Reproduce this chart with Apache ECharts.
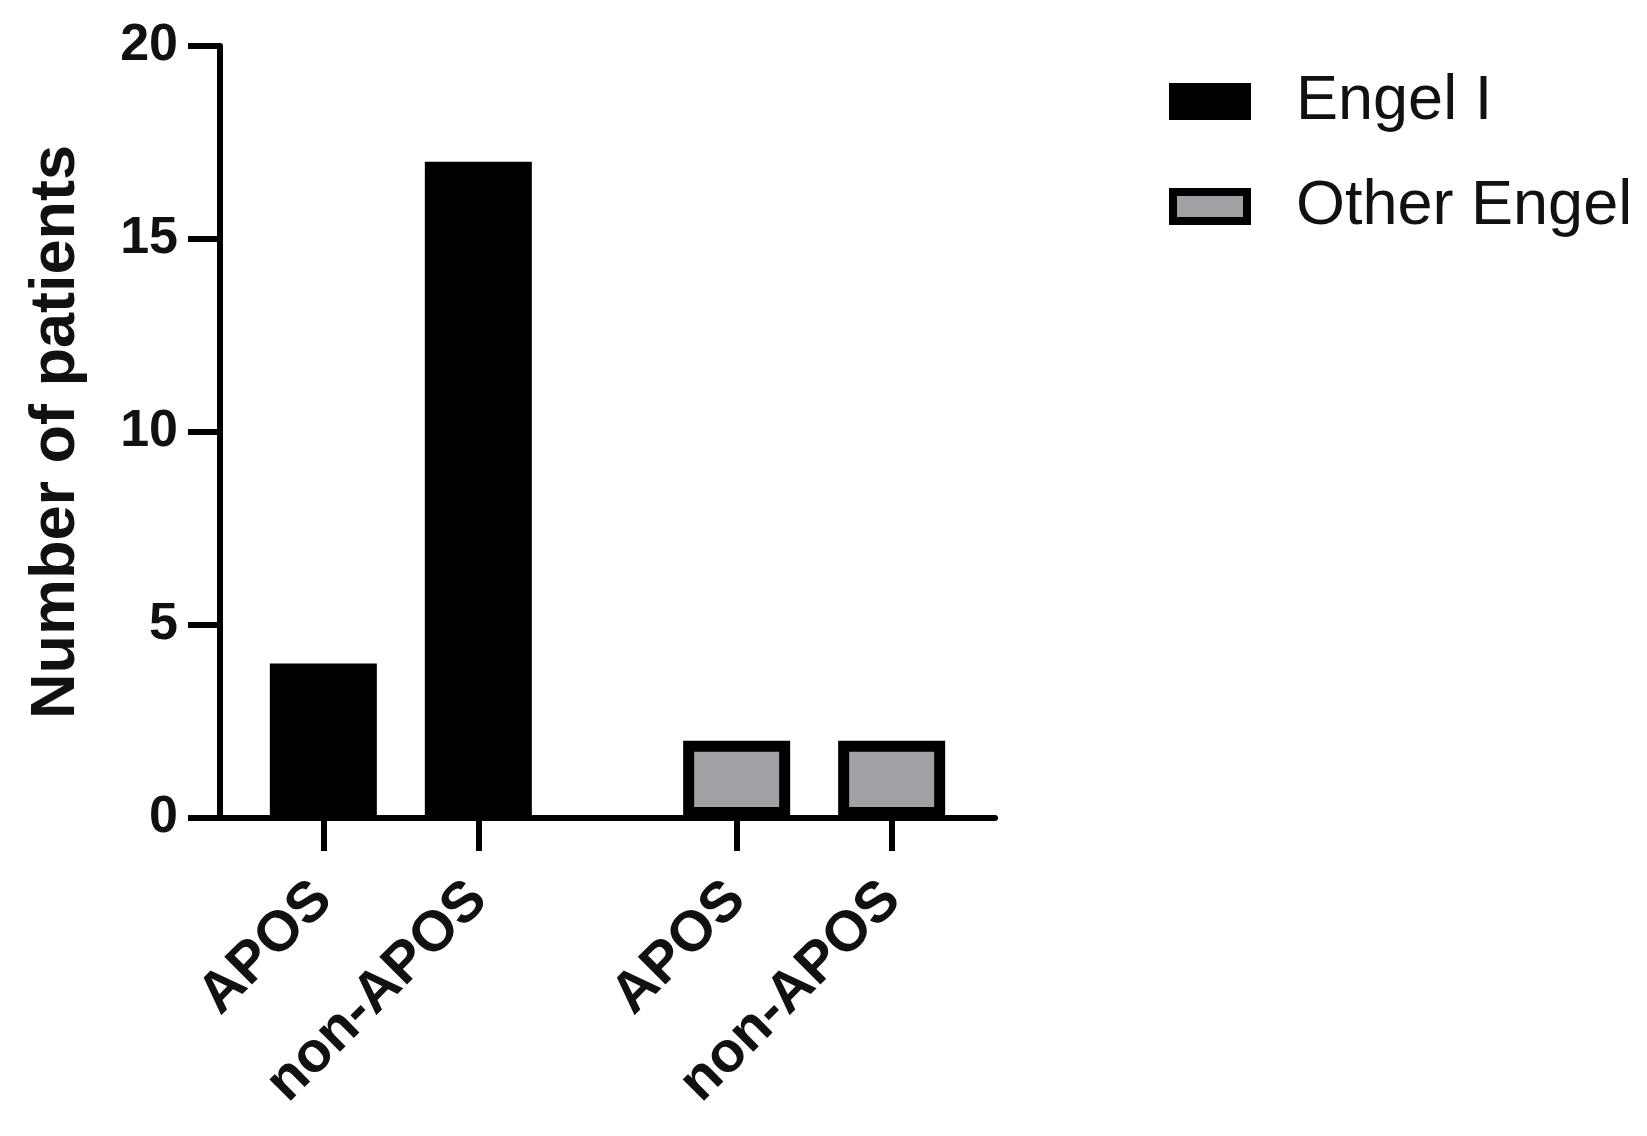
<!DOCTYPE html>
<html>
<head>
<meta charset="utf-8">
<title>Engel outcome</title>
<script src="https://cdn.jsdelivr.net/npm/echarts@6/dist/echarts.min.js"></script>
<style>
  html, body { margin: 0; padding: 0; background: #fff; }
  #chart { width: 1647px; height: 1136px; }
</style>
</head>
<body>
<div id="chart"></div>
<script>
// data
const groups = ['Engel I', 'Other Engel'];
const categories = ['APOS', 'non-APOS'];
const engelI = [4, 17];
const otherEngel = [2, 2];
const yTicks = [0, 5, 10, 15, 20];

// x layout in axis units: bars 3 apart inside a group, groups 8 apart
const EDGE = 2, STEP = 3, GROUP = 8, XMAX = 15;
const slot = (g, i) => EDGE + g * GROUP + i * STEP;

const tickPos = [];
const labelAt = {};
groups.forEach((g, gi) => {
  categories.forEach((c, ci) => {
    tickPos.push(slot(gi, ci));
    labelAt[slot(gi, ci)] = c;
  });
});

const FONT = 'Liberation Sans';
const chart = echarts.init(document.getElementById('chart'));

chart.setOption({
  animation: false,
  grid: { left: 220, right: 652, top: 46, bottom: 318, containLabel: false },
  legend: {
    orient: 'vertical',
    left: 1164,
    top: 65,
    itemWidth: 74,
    itemHeight: 29,
    itemGap: 42,
    icon: 'rect',
    textStyle: { fontFamily: FONT, fontSize: 63, color: '#111', lineHeight: 62, padding: [0, 0, 0, 44] },
    data: [
      { name: groups[0], itemStyle: { color: '#000', borderColor: '#000', borderWidth: 8 } },
      { name: groups[1], itemStyle: { color: '#a1a1a5', borderColor: '#000', borderWidth: 8 } }
    ]
  },
  xAxis: {
    type: 'value',
    min: 0,
    max: XMAX,
    splitLine: { show: false },
    axisLine: { show: true, lineStyle: { color: '#000', width: 6 } },
    axisTick: { show: true, customValues: tickPos, length: 33, lineStyle: { color: '#000', width: 6 } },
    axisLabel: {
      customValues: tickPos,
      formatter: v => labelAt[v] || '',
      rotate: 45,
      margin: 73,
      fontFamily: FONT,
      fontWeight: 'bold',
      fontSize: 57,
      color: '#111'
    }
  },
  yAxis: {
    type: 'value',
    min: 0,
    max: 20,
    interval: 5,
    name: 'Number of patients',
    nameLocation: 'middle',
    nameGap: 132,
    nameTextStyle: { fontFamily: FONT, fontWeight: 'bold', fontSize: 63, color: '#111' },
    splitLine: { show: false },
    axisLine: { show: true, lineStyle: { color: '#000', width: 6 } },
    axisTick: { show: true, length: 32, lineStyle: { color: '#000', width: 6 } },
    axisLabel: {
      margin: 42,
      fontFamily: FONT,
      fontWeight: 'bold',
      fontSize: 52,
      color: '#111',
      formatter: v => (yTicks.indexOf(v) >= 0 ? String(v) : '')
    }
  },
  series: [
    {
      name: groups[0],
      type: 'bar',
      barWidth: 107,
      barGap: '-100%',
      itemStyle: { color: '#000', borderColor: '#000', borderWidth: 11 },
      data: engelI.map((v, i) => [slot(0, i), v])
    },
    {
      name: groups[1],
      type: 'bar',
      barWidth: 107,
      barGap: '-100%',
      itemStyle: { color: '#a1a1a5', borderColor: '#000', borderWidth: 11 },
      data: otherEngel.map((v, i) => [slot(1, i), v])
    }
  ]
});
</script>
</body>
</html>
